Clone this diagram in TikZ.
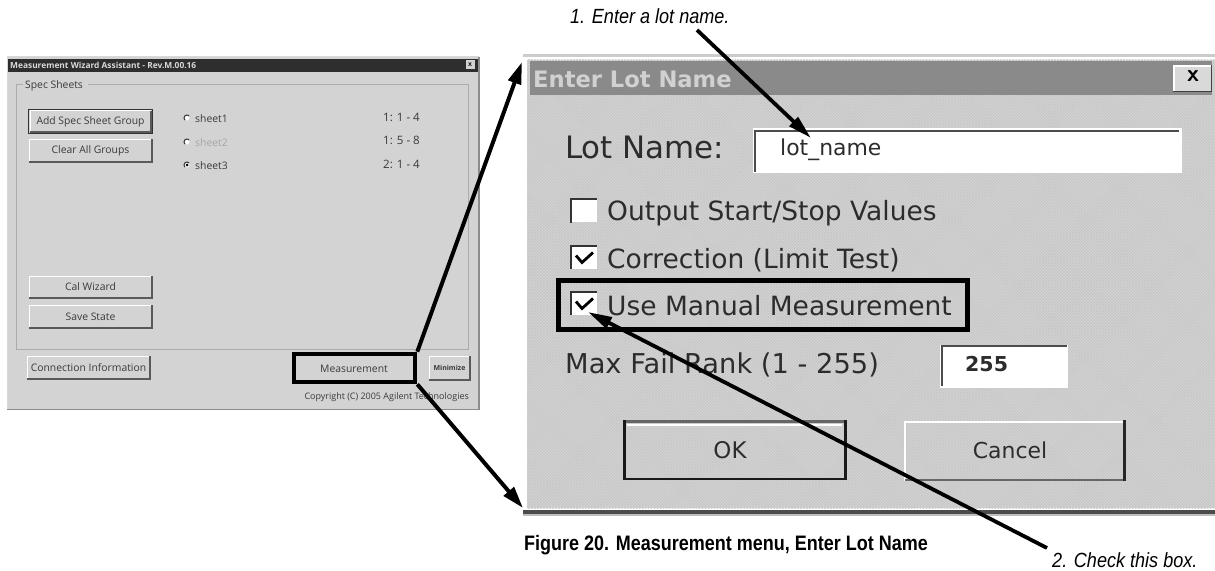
\documentclass[tikz,border=0pt]{standalone}
\usepackage{fontspec}
\usetikzlibrary{arrows.meta,patterns}
\setmainfont{Liberation Sans}
\newfontfamily\uifont{Open Sans}
\newfontfamily\dlgfont{DejaVu Sans}
\newfontfamily\notefont[FakeStretch=0.88]{Liberation Sans}
\newfontfamily\capfont[FakeStretch=0.86]{Liberation Sans}
\definecolor{winbg}{HTML}{D3D3D3}
\definecolor{wintitle}{HTML}{2E2E2E}
\definecolor{wingroove}{HTML}{ABABAB}
\definecolor{wintext}{HTML}{3A3A3A}
\definecolor{dlgbg}{HTML}{D4D4D4}
\definecolor{dlgtex}{HTML}{C6C6C6}
\definecolor{dlgtitle}{HTML}{8A8A8A}
\definecolor{dlgtext}{HTML}{2C2C2C}
\tikzset{
  smalltext/.style={inner sep=0pt,text=wintext,font=\uifont\fontsize{10.4}{12}\selectfont},
  bigtext/.style={inner sep=0pt,text=dlgtext,font=\dlgfont\fontsize{26.6}{30}\selectfont},
  edgelight/.style={draw=white,line width=1pt},
  edgedark/.style={draw=black!65,line width=1.5pt},
  field/.style={fill=white},
  fieldedge/.style={draw=black!70,line width=2.5pt},
  callout/.style={draw=black,line width=4.6pt},
  pointer/.style={draw=black,line width=4pt,-{Triangle[length=22bp,width=13bp]}},
  thinpointer/.style={draw=black,line width=3.8pt,-{Triangle[length=24bp,width=12bp]}},
  note/.style={inner sep=0pt,font=\notefont\itshape\fontsize{20.6}{23}\selectfont},
  caption/.style={inner sep=0pt,font=\capfont\bfseries\fontsize{21}{24}\selectfont},
  radio/.style={fill=white,circle,inner sep=0pt,minimum size=5bp},
  radioarc/.style={draw=black!80,line width=1pt},
  checkbox/.style={fill=white,inner sep=0pt,minimum width=25bp,minimum height=23bp},
  checkedge/.style={draw=black!80,line width=2.2pt},
  checktick/.style={draw=black,line width=2.8pt}
}
% name, x1, y1, x2, y2, text
\newcommand{\winbutton}[6]{%
  \fill[winbg] (#2,#3) rectangle (#4,#5);
  \draw[edgelight] (#2,#5) -- (#2,#3) -- (#4,#3);
  \draw[edgedark] (#2,#5) -- (#4,#5) -- (#4,#3);
  \node[smalltext] (#1) at ({(#2+#4)/2},{(#3+#5)/2}) {#6};
}
% name, centre x, centre y, checked
\newcommand{\bevelbox}[4]{%
  \node[checkbox] (#1) at (#2,#3) {};
  \draw[checkedge] (#1.south west) -- (#1.north west) -- (#1.north east);
  \ifnum#4=1 \draw[checktick] (#2-8,#3-2) -- (#2-2,#3+5) -- (#2+9,#3-5);\fi
}
\newcommand{\radiobtn}[3]{%
  \node[radio] (#1) at (#2,#3) {};
  \draw[radioarc] (#2,#3) ++(135:3) arc (135:315:3);
}
\begin{document}
\begin{tikzpicture}[x=1bp,y=-1bp]
\useasboundingbox (0,0) rectangle (1215,571);
\fill[white] (0,0) rectangle (1215,571);
% ---------- left window
\node[fill=winbg,inner sep=0pt,minimum width=472bp,minimum height=352bp] (win) at (243,233) {};
\draw[black!45,line width=1.2pt] (7,409.5) -- (479,409.5) -- (479,57);
\draw[black!15,line width=1pt] (7,409) -- (7,57) -- (479,57);
\fill[wintitle] (8,59) rectangle (478,72);
\node[inner sep=0pt,anchor=west,text=white!85!black,font=\uifont\bfseries\fontsize{8.4}{10}\selectfont] (wintitlelabel) at (10,65.5) {Measurement Wizard Assistant - Rev.M.00.16};
\node[fill=winbg,inner sep=0pt,minimum width=9bp,minimum height=9bp,font=\sffamily\bfseries\fontsize{8}{8}\selectfont] (winclose) at (470,65) {x};
\draw[wingroove,line width=1pt] (23,84.5) -- (16,84.5) -- (16,349) -- (468,349) -- (468,84.5) -- (88,84.5);
\node[smalltext,anchor=west] (specsheets) at (25,86) {Spec Sheets};
\winbutton{addbtn}{30}{111}{151}{132}{Add Spec Sheet Group}
\draw[black!80,line width=1pt] (28.5,109.5) rectangle (152.5,133.5);
\winbutton{clearbtn}{29}{139}{152}{162}{Clear All Groups}
\winbutton{calbtn}{29}{276}{152}{298}{Cal Wizard}
\winbutton{savebtn}{29}{305}{152}{328}{Save State}
\winbutton{connbtn}{27}{356}{150}{379}{Connection Information}
\node[smalltext] (measlabel) at (354,369) {Measurement};
\winbutton{minbtn}{429}{356}{470}{380}{\fontsize{7}{8}\bfseries\selectfont Minimize}
\radiobtn{r1}{187}{118}
\radiobtn{r2}{187}{142}
\radiobtn{r3}{187}{165}
\fill[black] (r3) circle (1.5);
\node[smalltext,anchor=west] (s1) at (195,119) {sheet1};
\node[smalltext,anchor=west,text=black!35] (s2) at (195,143) {sheet2};
\node[smalltext,anchor=west] (s3) at (195,166) {sheet3};
\node[smalltext,anchor=west,font=\uifont\fontsize{11.6}{13}\selectfont] (c1) at (383,117) {1: 1 - 4};
\node[smalltext,anchor=west,font=\uifont\fontsize{11.6}{13}\selectfont] (c2) at (383,140) {1: 5 - 8};
\node[smalltext,anchor=west,font=\uifont\fontsize{11.6}{13}\selectfont] (c3) at (383,164) {2: 1 - 4};
\node[smalltext,anchor=east,font=\uifont\fontsize{9}{11}\selectfont] (copy) at (469,397) {Copyright (C) 2005 Agilent Technologies};
% ---------- dialog
\fill[black!20] (523,54) rectangle (1215,57);
\fill[white] (523,57) rectangle (1215,510);
\fill[dlgbg] (527,60) rectangle (1215,508);
\fill[pattern=crosshatch,pattern color=dlgtex] (527,60) rectangle (1215,508);
\fill[black!70] (523,510) rectangle (1215,514);
\fill[black!25] (523,514) rectangle (1215,515.5);
\node[fill=dlgtitle,inner sep=0pt,minimum width=682bp,minimum height=34bp] (dlgtitlebar) at (871,78) {};
\node[inner sep=0pt,anchor=west,text=white!82!black,font=\dlgfont\bfseries\fontsize{22.7}{26}\selectfont] (dlgtitlelabel) at (533,79.5) {Enter Lot Name};
\fill[white] (1173,65) rectangle (1212,92);
\fill[black!15] (1175,67) rectangle (1211,91);
\draw[black!75,line width=1.6pt] (1173,91.5) -- (1211.5,91.5) -- (1211.5,65);
\node[inner sep=0pt,font=\sffamily\bfseries\fontsize{24}{24}\selectfont] (dlgclose) at (1193,76.5) {x};
\node[bigtext,anchor=west,font=\dlgfont\fontsize{31}{34}\selectfont] (lotlabel) at (565,147) {Lot Name:};
\node[field,inner sep=0pt,minimum width=429bp,minimum height=45bp] (lotfield) at (967.5,150.5) {};
\draw[fieldedge] (755,172) -- (755,131) -- (1179,131);
\node[bigtext,anchor=west,font=\dlgfont\fontsize{22}{24}\selectfont] (lotvalue) at (780,150) {lot\_name};
\bevelbox{cb1}{584}{211}{0}
\node[bigtext,anchor=west] (cb1t) at (607,213) {Output Start/Stop Values};
\bevelbox{cb2}{584}{257.5}{1}
\node[bigtext,anchor=west] (cb2t) at (607,260) {Correction (Limit Test)};
\bevelbox{cb3}{584}{303.5}{1}
\node[bigtext,anchor=west] (cb3t) at (607,306) {Use Manual Measurement};
\node[bigtext,anchor=west,font=\dlgfont\fontsize{27.4}{30}\selectfont] (ranklabel) at (565,365) {Max Fail Rank (1 - 255)};
\node[field,inner sep=0pt,minimum width=128bp,minimum height=43bp] (rankfield) at (1004,366) {};
\draw[fieldedge] (942,386) -- (942,346) -- (1067,346);
\node[bigtext,anchor=west,font=\dlgfont\bfseries\fontsize{20.6}{24}\selectfont] (rankvalue) at (965,364) {255};
\draw[black!60,line width=3pt] (623,421.5) -- (845,421.5);
\draw[black!90,line width=3pt] (624,420) -- (624,479) -- (845,479) -- (845,420);
\draw[white,line width=1.5pt] (627,425) -- (842,425);
\node[bigtext,font=\dlgfont\fontsize{23}{26}\selectfont] (okbtn) at (730,450) {OK};
\draw[white,line width=1.5pt] (905,481) -- (905,422) -- (1123,422);
\draw[black!60,line width=3pt] (905,480) -- (1124,480);
\draw[black!85,line width=3pt] (1124,481) -- (1124,420);
\node[bigtext,font=\dlgfont\fontsize{22}{26}\selectfont] (cancelbtn) at (1010,450) {Cancel};
% ---------- callouts and arrows
\node[callout,inner sep=0pt,minimum width=121bp,minimum height=28bp] (measbox) at (354.5,368) {};
\node[callout,inner sep=0pt,minimum width=409bp,minimum height=49bp] (usebox) at (763,305) {};
\coordinate (dlgtl) at (522,62);
\coordinate (dlgbl) at (523,508);
\coordinate (n1start) at (697,30);
\coordinate (n1tip) at (811,138);
\coordinate (n2start) at (1047,548);
\coordinate (n2tip) at (588,312);
\draw[pointer] (measbox.north east) -- (dlgtl);
\draw[pointer] (measbox.south east) -- (dlgbl);
\draw[thinpointer] (n1start) -- (n1tip);
\draw[thinpointer] (n2start) -- (n2tip);
\node[note,anchor=west] (note1) at (570,16) {1. Enter a lot name.};
\node[note,anchor=west] (note2) at (1052,560) {2. Check this box.};
\node[caption,anchor=west] (fig) at (524,545) {Figure 20. Measurement menu, Enter Lot Name};
\end{tikzpicture}
\end{document}
